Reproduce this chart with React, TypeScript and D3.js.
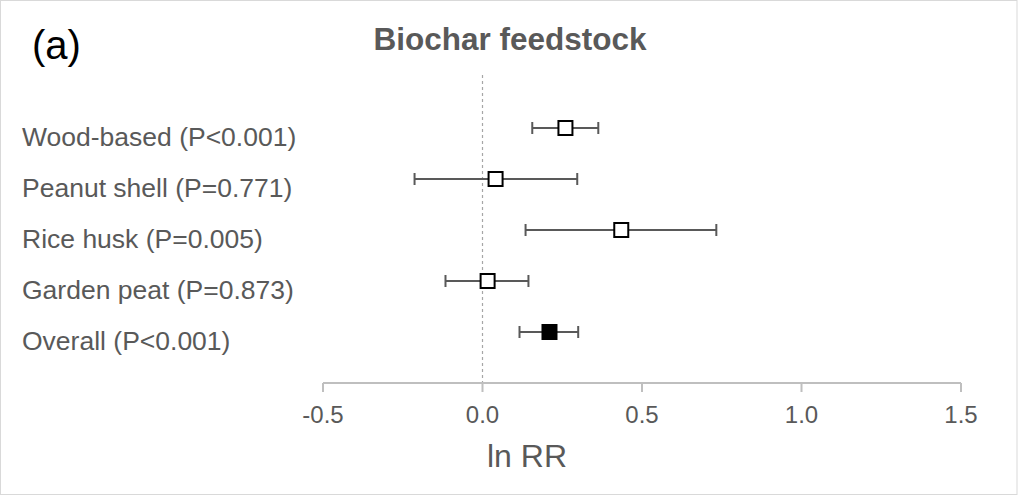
import React from "react";
import * as d3 from "d3";

const categories = [
  "Wood-based (P<0.001)",
  "Peanut shell (P=0.771)",
  "Rice husk (P=0.005)",
  "Garden peat (P=0.873)",
  "Overall (P<0.001)",
];
const means = [0.26, 0.041, 0.435, 0.016, 0.21];
const lowers = [0.156, -0.213, 0.135, -0.116, 0.116];
const uppers = [0.363, 0.297, 0.733, 0.144, 0.3];
const filled = [false, false, false, false, true];
const xTicks = [-0.5, 0, 0.5, 1.0, 1.5];

const W = 1018;
const H = 496;
const FONT = "'Liberation Sans', Arial, sans-serif";
const GREY = "#595959";

// hyphen-minus, one decimal
const fmtTick = (t: number) => d3.format(".1f")(t).replace("\u2212", "-");

export default function App() {
  const x = d3.scaleLinear().domain([-0.5, 1.5]).range([323, 961]);
  const y = d3.scalePoint<string>().domain(categories).range([128, 332]);
  const axisY = 383;
  const cap = 6;
  const sq = 14;

  return (
    <svg
      width={W}
      height={H}
      style={{ position: "absolute", left: 0, top: 0, background: "#fff" }}
    >
      <rect x={0.5} y={0.5} width={W - 1.5} height={H - 2} fill="#fff" stroke="#d9d9d9" strokeWidth={1} />

      <text x={32} y={59} fontFamily={FONT} fontSize={40} fill="#000">
        (a)
      </text>
      <text
        x={510}
        y={50}
        textAnchor="middle"
        fontFamily={FONT}
        fontSize={31.5}
        fontWeight="bold"
        fill={GREY}
      >
        Biochar feedstock
      </text>

      {/* zero reference line */}
      <line
        x1={x(0)}
        x2={x(0)}
        y1={75}
        y2={axisY}
        stroke="#a6a6a6"
        strokeWidth={1.2}
        strokeDasharray="3,3"
      />

      {/* x axis */}
      <line x1={x(-0.5)} x2={x(1.5)} y1={axisY} y2={axisY} stroke="#bfbfbf" strokeWidth={2} />
      {xTicks.map((t) => (
        <g key={t}>
          <line x1={x(t)} x2={x(t)} y1={axisY} y2={axisY + 9} stroke="#bfbfbf" strokeWidth={2} />
          <text
            x={x(t)}
            y={423}
            textAnchor="middle"
            fontFamily={FONT}
            fontSize={24}
            fill={GREY}
          >
            {fmtTick(t)}
          </text>
        </g>
      ))}
      <text x={527} y={467} textAnchor="middle" fontFamily={FONT} fontSize={32} fill={GREY}>
        ln RR
      </text>

      {/* category labels */}
      {categories.map((c) => (
        <text key={c} x={22} y={(y(c) as number) + 18} fontFamily={FONT} fontSize={26.5} fill={GREY}>
          {c}
        </text>
      ))}

      {/* error bars and point estimates */}
      {categories.map((c, i) => {
        const cy = y(c) as number;
        return (
          <g key={c}>
            <line x1={x(lowers[i])} x2={x(uppers[i])} y1={cy} y2={cy} stroke={GREY} strokeWidth={2} />
            <line x1={x(lowers[i])} x2={x(lowers[i])} y1={cy - cap} y2={cy + cap} stroke={GREY} strokeWidth={2} />
            <line x1={x(uppers[i])} x2={x(uppers[i])} y1={cy - cap} y2={cy + cap} stroke={GREY} strokeWidth={2} />
            <rect
              x={x(means[i]) - sq / 2}
              y={cy - sq / 2}
              width={sq}
              height={sq}
              fill={filled[i] ? "#000" : "#fff"}
              stroke="#000"
              strokeWidth={2}
            />
          </g>
        );
      })}
    </svg>
  );
}
